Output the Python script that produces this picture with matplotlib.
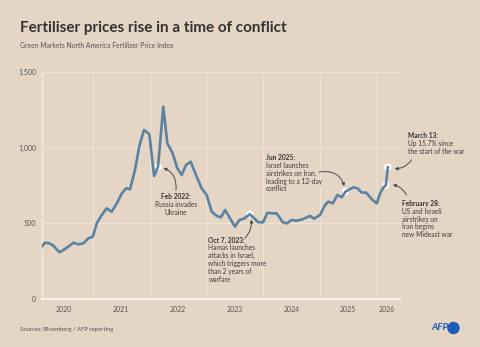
import matplotlib
matplotlib.use("Agg")
import matplotlib.pyplot as plt
import pandas as pd
from matplotlib.patches import Ellipse

# --- data ---
dates = ["2020-02-07", "2020-02-28", "2020-03-27", "2020-04-22", "2020-05-31",
         "2020-07-06", "2020-08-29", "2020-09-30", "2020-11-01", "2020-12-03",
         "2021-01-01", "2021-01-26", "2021-02-27", "2021-03-31", "2021-05-02",
         "2021-06-04", "2021-07-06", "2021-08-03", "2021-08-28", "2021-09-29",
         "2021-10-27", "2021-11-26", "2021-12-30", "2022-01-30", "2022-02-24",
         "2022-03-30", "2022-04-25", "2022-05-29", "2022-06-28", "2022-07-26",
         "2022-08-23", "2022-09-22", "2022-10-26", "2022-12-01", "2023-01-03",
         "2023-02-04", "2023-03-08", "2023-04-05", "2023-05-01", "2023-06-02",
         "2023-07-04", "2023-08-01", "2023-08-31", "2023-10-07", "2023-10-29",
         "2023-11-30", "2024-01-01", "2024-01-28", "2024-02-25", "2024-03-28",
         "2024-05-06", "2024-06-01", "2024-07-02", "2024-08-03", "2024-09-11",
         "2024-10-28", "2024-11-23", "2025-01-01", "2025-02-02", "2025-02-23",
         "2025-03-24", "2025-04-22", "2025-05-20", "2025-06-13", "2025-08-03",
         "2025-08-29", "2025-09-26", "2025-10-24", "2025-11-30", "2026-01-01",
         "2026-01-22", "2026-02-12", "2026-02-28", "2026-03-13"]
index = [346, 372, 368, 352, 309,
         330, 372, 361, 368, 401,
         412, 500, 555, 599, 577,
         632, 698, 732, 725, 853,
         1011, 1117, 1090, 813, 874,
         1271, 1029, 963, 864, 820,
         886, 907, 820, 732, 687,
         577, 549, 540, 588, 533,
         478, 522, 531, 560, 540,
         507, 507, 570, 566, 566,
         507, 500, 522, 517, 527,
         549, 531, 555, 621, 643,
         632, 687, 672, 709, 738,
         732, 703, 703, 659, 632,
         698, 736, 752, 870]

event_dates = ["2022-02-24", "2023-10-07", "2025-06-13", "2026-02-28", "2026-03-13"]
year_labels = ["2020", "2021", "2022", "2023", "2024", "2025", "2026"]
year_label_dates = ["2020-07-01", "2021-07-01", "2022-07-01", "2023-07-01",
                    "2024-07-01", "2025-07-01", "2026-03-08"]
year_starts = ["2021-01-01", "2022-01-01", "2023-01-01", "2024-01-01",
               "2025-01-01", "2026-01-01"]
y_ticks = [0, 500, 1000, 1500]

BG = "#e5d5c5"
LINE = "#5a82a1"
TXT = "#3c3c3c"
GRID = "#efe5d9"

plt.rcParams["font.family"] = ["Lato", "DejaVu Sans"]

W, H = 480, 347
fig = plt.figure(figsize=(W / 100, H / 100), dpi=100, facecolor=BG)


def ftext(x, y, s, **kw):
    kw.setdefault("color", TXT)
    kw.setdefault("va", "center")
    fig.text(x / W, 1 - y / H, s, **kw)


def note(x, y, header, lines, ha="left", step=7.9, fs=4.8):
    ftext(x, y, header, fontsize=fs, fontweight="bold", ha=ha, color="#333333")
    for i, line in enumerate(lines):
        ftext(x, y + step * (i + 1), line, fontsize=fs, ha=ha)


ax = fig.add_axes([41.7 / W, 1 - 299 / H, (400 - 41.7) / W, (299 - 72) / H])
ax.set_facecolor(BG)

df = pd.DataFrame({"date": pd.to_datetime(dates), "value": index})
ev = df[df["date"].isin(pd.to_datetime(event_dates))]

ax.plot(df["date"], df["value"], color=LINE, lw=1.9, zorder=3,
        solid_joinstyle="round")
ax.scatter(ev["date"], ev["value"], s=28, color="white", zorder=2,
           edgecolors="none")

ax.set_xlim(pd.Timestamp("2020-02-07"), pd.Timestamp("2026-05-30"))
ax.set_ylim(0, 1500)

ax.set_xticks(pd.to_datetime(year_starts))
ax.set_xticklabels([])
ax.set_xticks(pd.to_datetime(year_label_dates), minor=True)
ax.set_xticklabels(year_labels, minor=True)
ax.tick_params(axis="x", which="both", length=0, labelsize=5, colors="#555555",
               pad=5)
ax.set_yticks(y_ticks)
ax.set_yticklabels([f"{v:,}" for v in y_ticks])
ax.tick_params(axis="y", length=0, labelsize=5, colors="#555555", pad=4)
ax.grid(True, which="major", color=GRID, lw=0.7, zorder=0)

for side in ["top", "right"]:
    ax.spines[side].set_visible(False)
ax.spines["left"].set_color("#f3ece4")
ax.spines["left"].set_linewidth(1.0)
ax.spines["bottom"].set_color("#f6f0ea")
ax.spines["bottom"].set_linewidth(1.6)

# --- titles ---
ftext(20, 28, "Fertiliser prices rise in a time of conflict", fontsize=11,
      fontweight="bold", color="#333333")
ftext(20, 45, "Green Markets North America Fertilizer Price Index", fontsize=4.9,
      color="#555555")
ftext(20, 329, "Sources: Bloomberg / AFP reporting", fontsize=4.2, color="#555555")

# AFP logo
ftext(431, 328, "AFP", fontsize=7, fontweight="bold", style="italic",
      color="#1e5bb8")
fig.patches.append(Ellipse((453.5 / W, 1 - 328 / H), 11 / W, 11 / H,
                           color="#1e5bb8", transform=fig.transFigure, figure=fig))

# --- annotations ---
note(176, 196.7, "Feb 2022:", ["Russia invades", "Ukraine"], ha="center")
note(208.5, 240, "Oct 7, 2023:", ["Hamas launches", "attacks in Israel,",
                                  "which triggers more", "than 2 years of",
                                  "warfare"])
note(266, 157.3, "Jun 2025:", ["Israel launches", "airstrikes on Iran,",
                               "leading to a 12-day", "conflict"])
note(407.5, 136, "March 13:", ["Up 15.7% since", "the start of the war"])
note(402.5, 203.3, "February 28:", ["US and Israeli", "airstrikes on",
                                    "Iran begins", "new Mideast war"])


def arrow(start_px, event_idx, rad, shrink=4):
    row = ev.iloc[event_idx]
    ax.annotate("", xy=(row["date"], row["value"]), xycoords="data",
                xytext=(start_px[0], H - start_px[1]), textcoords="figure pixels",
                arrowprops=dict(arrowstyle="-|>", color="#4a4a4a", lw=0.7,
                                mutation_scale=4.5, shrinkA=0, shrinkB=shrink,
                                connectionstyle=f"arc3,rad={rad}"))


arrow((176, 190), 0, 0.45)
arrow((245, 238), 1, 0.3)
arrow((319, 172), 2, -0.5)
arrow((411.5, 160), 4, -0.35, 5)
arrow((406.5, 195), 3, 0.35, 5)

fig.savefig("out.png", dpi=100, facecolor=BG)
